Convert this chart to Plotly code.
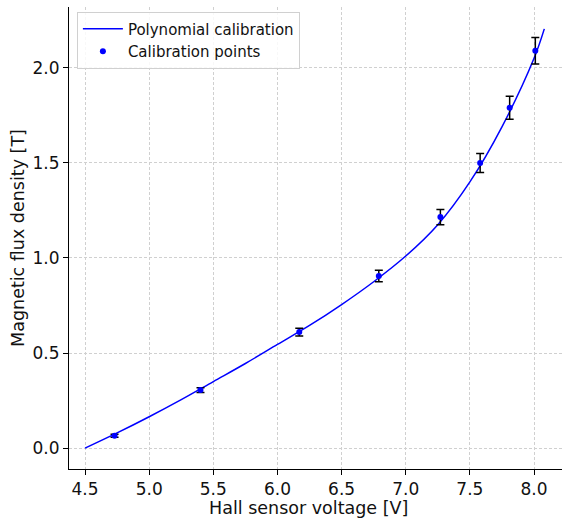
import plotly.graph_objects as go

# Calibration points
volt_points = [4.73, 5.40, 6.17, 6.79, 7.27, 7.58, 7.81, 8.01]
flux_points = [0.065, 0.305, 0.610, 0.905, 1.215, 1.500, 1.790, 2.090]
flux_errors = [0.008, 0.012, 0.020, 0.030, 0.040, 0.050, 0.060, 0.070]

# Polynomial calibration curve samples
curve_volt = [4.50, 4.75, 5.00, 5.25, 5.50, 5.75, 6.00, 6.25, 6.50, 6.75, 7.00, 7.25, 7.50, 7.75, 8.00, 8.08]
curve_flux = [0.000, 0.080, 0.165, 0.255, 0.350, 0.445, 0.545, 0.645, 0.755, 0.875, 1.010, 1.175, 1.400, 1.690, 2.050, 2.205]

FONT = "DejaVu Sans"
TXT = "#111111"

fig = go.Figure()
fig.add_trace(go.Scatter(
    x=curve_volt, y=curve_flux, mode="lines", line_shape="spline",
    line=dict(color="#0000ff", width=1.5), name="Polynomial calibration",
))
fig.add_trace(go.Scatter(
    x=volt_points, y=flux_points, mode="markers", name="Calibration points",
    marker=dict(color="#0000ff", size=6),
    error_y=dict(type="data", array=flux_errors, color="black", thickness=1.5, width=4),
))

axis_common = dict(
    showgrid=True, gridcolor="#d0d0d0", griddash="3px,2px", gridwidth=0.8,
    showline=True, linecolor="black", linewidth=1, mirror=False,
    ticks="outside", ticklen=5, tickwidth=1, tickcolor="black",
    tickfont=dict(family=FONT, size=17, color=TXT),
    zeroline=False, tickformat=".1f", automargin=False,
)

fig.update_layout(
    width=563, height=519,
    margin=dict(l=69, r=1, t=7, b=50),
    paper_bgcolor="white", plot_bgcolor="white",
    font=dict(family=FONT, color=TXT),
    xaxis=dict(range=[4.375, 8.218], dtick=0.5, tick0=4.5, **axis_common),
    yaxis=dict(range=[-0.11, 2.32], dtick=0.5, tick0=0,
               title=dict(text="Magnetic flux density [T]", font=dict(size=17.5), standoff=3),
               **axis_common),
    annotations=[dict(
        text="Hall sensor voltage [V]", xref="paper", yref="paper",
        x=0.485, y=0, yshift=-28, xanchor="center", yanchor="top", showarrow=False,
        borderpad=0, font=dict(family=FONT, size=17.5, color=TXT),
    )],
    legend=dict(x=0.016, y=0.99, xanchor="left", yanchor="top",
                bgcolor="rgba(255,255,255,0.85)", bordercolor="#d0d0d0", borderwidth=1,
                font=dict(family=FONT, size=15, color=TXT),
                itemwidth=40, tracegroupgap=0),
    showlegend=True,
)

fig.write_html("out.html", config={"displayModeBar": False},
               post_script="document.body.style.margin='0';document.body.style.overflow='hidden';")
